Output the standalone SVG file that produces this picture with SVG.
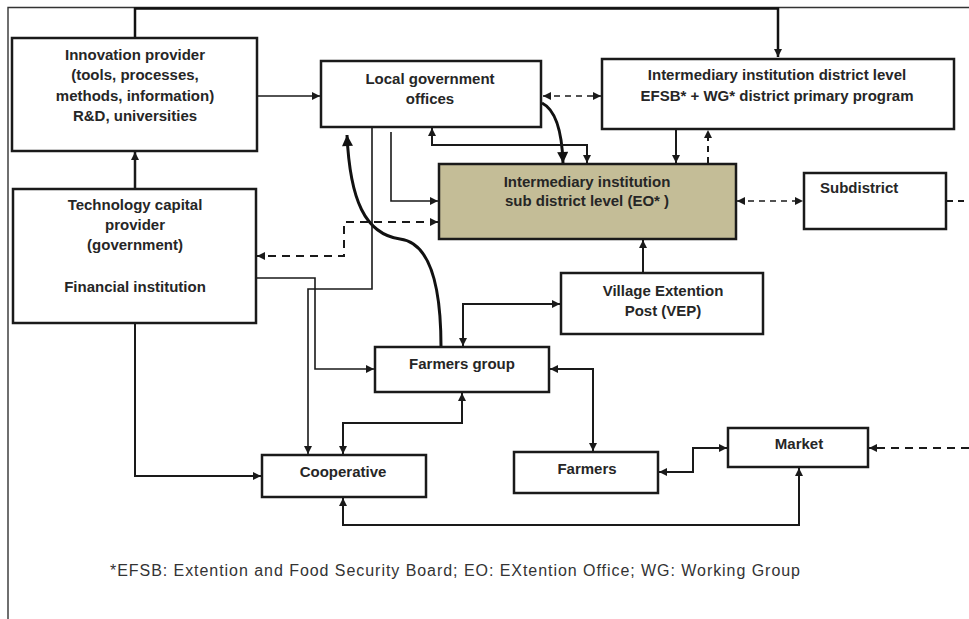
<svg xmlns="http://www.w3.org/2000/svg" width="969" height="619" viewBox="0 0 969 619">
<style>
.box{fill:#fff;stroke:#1a1a1a;stroke-width:2.5}
.eo{fill:#c4bd97;stroke:#1a1a1a;stroke-width:2.5}
.t{font-family:"Liberation Sans",Arial,sans-serif;font-weight:bold;font-size:15px;fill:#262626;text-anchor:middle}
.ln{fill:none;stroke:#1a1a1a;stroke-width:1.6}
.th{fill:none;stroke:#111;stroke-width:3}
.ds{fill:none;stroke:#1a1a1a;stroke-width:1.6;stroke-dasharray:6,5}
.dsb{fill:none;stroke:#1a1a1a;stroke-width:2;stroke-dasharray:8,6}
.fn{font-family:"Liberation Sans",Arial,sans-serif;font-size:16px;fill:#333}
</style>
<defs>
<marker id="a" viewBox="0 0 10 10" refX="10" refY="5" markerWidth="9" markerHeight="8" markerUnits="userSpaceOnUse" orient="auto-start-reverse"><path d="M0,0 L10,5 L0,10 z" fill="#1a1a1a"/></marker>
<marker id="b" viewBox="0 0 10 10" refX="10" refY="5" markerWidth="12" markerHeight="11" markerUnits="userSpaceOnUse" orient="auto-start-reverse"><path d="M0,0 L10,5 L0,10 z" fill="#111"/></marker>
</defs>
<rect width="969" height="619" fill="#fff"/>
<path d="M8,619 V7.5 H969" fill="none" stroke="#333" stroke-width="1.4"/>

<g id="connectors">
<path class="th" d="M135,38 V8.5 H778 V57" marker-end="url(#a)" style="stroke-width:2.5"/>
<path class="ln" d="M135,189 V152" marker-end="url(#a)" style="stroke-width:2.5"/>
<path class="ln" d="M257,96 H320" marker-end="url(#a)"/>
<path class="ds" d="M543,96 H601" marker-start="url(#a)" marker-end="url(#a)"/>
<path class="th" d="M542,103 C556,110 562,132 563,163" marker-end="url(#b)"/>
<path class="ln" d="M587,163 V145 H432 V128" marker-start="url(#a)" marker-end="url(#a)" style="stroke-width:2"/>
<path class="ln" d="M676,130 V163" marker-end="url(#a)" style="stroke-width:2"/>
<path class="ds" d="M708,163 V130" marker-end="url(#a)" style="stroke-width:2"/>
<path class="ds" d="M737,201 H803" marker-start="url(#a)" marker-end="url(#a)"/>
<path class="ds" d="M947,201 H969" style="stroke-width:2"/>
<path class="ln" d="M643,273 V240" marker-end="url(#a)" style="stroke-width:2"/>
<path class="ln" d="M463,346 V304 H560" marker-start="url(#a)" marker-end="url(#a)" style="stroke-width:2"/>
<path class="th" d="M441,347 C441,290 432,243 400,239 C365,234 350,200 347,135" marker-end="url(#b)"/>
<path class="ln" d="M372,128 V289 H308 V454" marker-end="url(#a)"/>
<path class="ln" d="M391,132 V201 H438" marker-end="url(#a)"/>
<path class="dsb" d="M438,222 H344 V256 H257" marker-start="url(#a)" marker-end="url(#a)"/>
<path class="ln" d="M257,278 H315 V369 H374" marker-end="url(#a)"/>
<path class="ln" d="M135,323 V476 H261" marker-end="url(#a)" style="stroke-width:2"/>
<path class="ln" d="M462,393 V423 H343 V454" marker-start="url(#a)" marker-end="url(#a)" style="stroke-width:2"/>
<path class="ln" d="M550,369 H593 V451" marker-start="url(#a)" marker-end="url(#a)" style="stroke-width:2"/>
<path class="ln" d="M659,472 H693 V448 H727" marker-start="url(#a)" marker-end="url(#a)" style="stroke-width:2"/>
<path class="dsb" d="M969,448 H869" marker-end="url(#a)"/>
<path class="ln" d="M343,498 V525 H799 V468" marker-start="url(#a)" marker-end="url(#a)" style="stroke-width:2"/>
</g>

<g id="innovation">
<rect class="box" x="12" y="38" width="245" height="113"/>
<text class="t" x="135" y="60">Innovation provider</text>
<text class="t" x="135" y="80">(tools, processes,</text>
<text class="t" x="135" y="101">methods, information)</text>
<text class="t" x="135" y="121">R&amp;D, universities</text>
</g>
<g id="localgov">
<rect class="box" x="321" y="61" width="220" height="66"/>
<text class="t" x="430" y="84">Local government</text>
<text class="t" x="430" y="104">offices</text>
</g>
<g id="district">
<rect class="box" x="602" y="59" width="352" height="70"/>
<text class="t" x="777" y="80">Intermediary institution district level</text>
<text class="t" x="777" y="101">EFSB* + WG* district primary program</text>
</g>
<g id="techcap">
<rect class="box" x="13" y="189" width="243" height="134"/>
<text class="t" x="135" y="210">Technology capital</text>
<text class="t" x="135" y="230">provider</text>
<text class="t" x="135" y="250">(government)</text>
<text class="t" x="135" y="292">Financial institution</text>
</g>
<g id="eo">
<rect class="eo" x="439" y="164" width="297" height="75"/>
<text class="t" x="587" y="187">Intermediary institution</text>
<text class="t" x="587" y="206">sub district level (EO* )</text>
</g>
<g id="subdistrict">
<rect class="box" x="804" y="173" width="142" height="56"/>
<text class="t" x="820" y="193" style="text-anchor:start">Subdistrict</text>
</g>
<g id="vep">
<rect class="box" x="561" y="273" width="202" height="61"/>
<text class="t" x="663" y="296">Village Extention</text>
<text class="t" x="663" y="316">Post (VEP)</text>
</g>
<g id="farmersgroup">
<rect class="box" x="375" y="347" width="174" height="45"/>
<text class="t" x="462" y="369">Farmers group</text>
</g>
<g id="cooperative">
<rect class="box" x="262" y="455" width="164" height="42"/>
<text class="t" x="343" y="477">Cooperative</text>
</g>
<g id="farmers">
<rect class="box" x="514" y="452" width="144" height="41"/>
<text class="t" x="587" y="474">Farmers</text>
</g>
<g id="market">
<rect class="box" x="728" y="428" width="140" height="39"/>
<text class="t" x="799" y="449">Market</text>
</g>
<text class="fn" x="110" y="576" textLength="690" lengthAdjust="spacing">*EFSB: Extention and Food Security Board; EO: EXtention Office; WG: Working Group</text>
</svg>
